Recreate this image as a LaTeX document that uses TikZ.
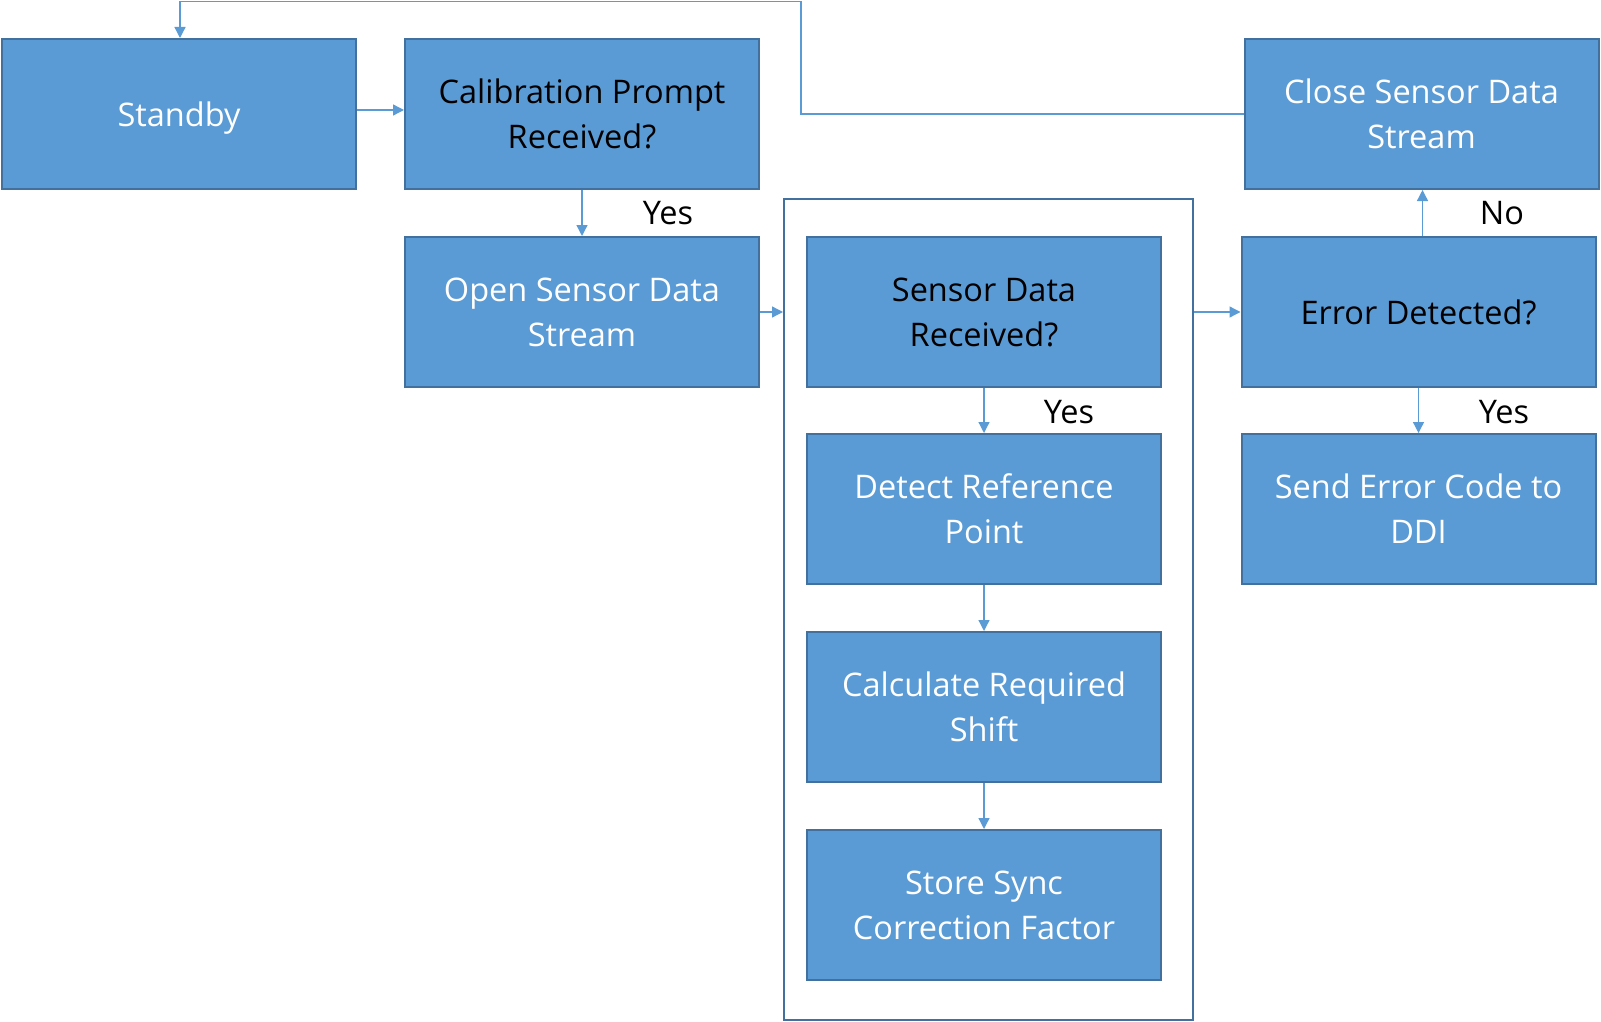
\documentclass[tikz,border=0pt]{standalone}
\usepackage{fontspec}
\setmainfont{Open Sans}
\usetikzlibrary{arrows.meta}
\definecolor{boxc}{HTML}{5B9BD5}
\definecolor{bordc}{HTML}{41719C}
\definecolor{arrc}{HTML}{5B9BD5}
\tikzset{
  box/.style={draw=bordc, fill=boxc, line width=2pt, minimum width=354pt, minimum height=150pt,
    inner sep=0pt, align=center, text=white, font=\fontsize{32.5}{45}\selectfont},
  qbox/.style={box, text=black},
  arr/.style={draw=arrc, line width=1.3pt, -{Triangle[length=11pt,width=11pt]}},
  lab/.style={anchor=base, inner sep=0pt, font=\fontsize{32.5}{45}\selectfont, text=black}
}
\begin{document}
\begin{tikzpicture}[x=1pt,y=-1pt]
\useasboundingbox (0,0) rectangle (1601,1022);
\node[draw=bordc, line width=2pt, minimum width=409pt, minimum height=821pt, inner sep=0pt] (cont) at (988.5,609) {};
\node[box, text depth=0pt] (standby) at (179,114) {Standby};
\node[qbox] (calib) at (582,114) {Calibration Prompt\\Received?};
\node[box] (open) at (582,312) {Open Sensor Data\\Stream};
\node[qbox] (sensor) at (984,312) {Sensor Data\\Received?};
\node[box] (detect) at (984,509) {Detect Reference\\Point};
\node[box] (calc) at (984,707) {Calculate Required\\Shift};
\node[box] (store) at (984,905) {Store Sync\\Correction Factor};
\node[box] (close) at (1421.5,114) {Close Sensor Data\\Stream};
\node[qbox] (error) at (1418.5,312) {Error Detected?};
\node[box] (send) at (1418.5,509) {Send Error Code to\\DDI};
\coordinate (fbA) at (801,114);
\coordinate (fbB) at (801,1.5);
\coordinate (fbC) at (180,1.5);
\draw[arr] (close.west) -- (fbA) -- (fbB) -- (fbC) -- (fbC |- standby.north);
\draw[arr] ([yshift=4pt]standby.east) -- ([yshift=4pt]standby.east -| calib.west);
\draw[arr] (calib) -- (open);
\draw[arr] (open.east) -- (open.east -| cont.west);
\draw[arr] (cont.east |- error) -- (error);
\draw[arr] ([xshift=4pt]error.north) -- ([xshift=4pt]error.north |- close.south);
\draw[arr] (error) -- (send);
\draw[arr] (sensor) -- (detect);
\draw[arr] (detect) -- (calc);
\draw[arr] (calc) -- (store);
\node[lab] (y1) at (668,224) {Yes};
\node[lab] (y2) at (1069,423) {Yes};
\node[lab] (y3) at (1504,423) {Yes};
\node[lab] (no) at (1502,224) {No};
\end{tikzpicture}
\end{document}
